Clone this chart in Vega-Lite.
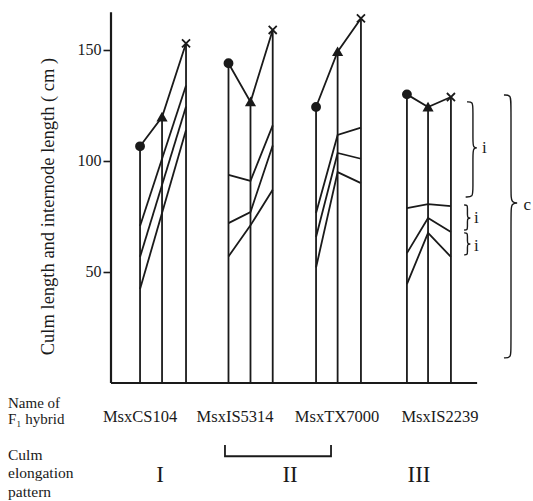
{
  "$schema": "https://vega.github.io/schema/vega-lite/v6.json",
  "width": 422,
  "height": 383,
  "autosize": {"type": "none"},
  "padding": {"left": 111, "top": 0, "right": 0, "bottom": 118},
  "background": "white",
  "config": {
    "view": {"stroke": null},
    "font": "Liberation Serif",
    "text": {"font": "Liberation Serif", "color": "#1a1a1a"}
  },
  "datasets": {
    "tops": [
      {"hybrid": "MsxCS104", "stage": 1, "pos": 1.32, "culm": 106.6},
      {"hybrid": "MsxCS104", "stage": 2, "pos": 2.32, "culm": 119.8},
      {"hybrid": "MsxCS104", "stage": 3, "pos": 3.41, "culm": 153},
      {"hybrid": "MsxIS5314", "stage": 1, "pos": 5.34, "culm": 144},
      {"hybrid": "MsxIS5314", "stage": 2, "pos": 6.34, "culm": 126.6},
      {"hybrid": "MsxIS5314", "stage": 3, "pos": 7.35, "culm": 159},
      {"hybrid": "MsxTX7000", "stage": 1, "pos": 9.32, "culm": 124.3},
      {"hybrid": "MsxTX7000", "stage": 2, "pos": 10.3, "culm": 149.2},
      {"hybrid": "MsxTX7000", "stage": 3, "pos": 11.36, "culm": 164.2},
      {"hybrid": "MsxIS2239", "stage": 1, "pos": 13.45, "culm": 130},
      {"hybrid": "MsxIS2239", "stage": 2, "pos": 14.41, "culm": 124.3},
      {"hybrid": "MsxIS2239", "stage": 3, "pos": 15.45, "culm": 128.8}
    ],
    "frame": [
      {"axis": "y", "x0": 0, "x1": 0, "y0": 0, "y1": 167},
      {"axis": "x", "x0": 0, "x1": 16.64, "y0": 0, "y1": 0}
    ],
    "internodes": [
      {"id": "CS104-1", "stage": 1, "pos": 1.32, "len": 70.7},
      {"id": "CS104-1", "stage": 3, "pos": 3.41, "len": 134},
      {"id": "CS104-2", "stage": 1, "pos": 1.32, "len": 56.8},
      {"id": "CS104-2", "stage": 3, "pos": 3.41, "len": 124.5},
      {"id": "CS104-3", "stage": 1, "pos": 1.32, "len": 42.3},
      {"id": "CS104-3", "stage": 3, "pos": 3.41, "len": 114},
      {"id": "IS5314-1", "stage": 1, "pos": 5.34, "len": 93.7},
      {"id": "IS5314-1", "stage": 2, "pos": 6.34, "len": 91},
      {"id": "IS5314-1", "stage": 3, "pos": 7.35, "len": 116},
      {"id": "IS5314-2", "stage": 1, "pos": 5.34, "len": 72},
      {"id": "IS5314-2", "stage": 2, "pos": 6.34, "len": 77},
      {"id": "IS5314-2", "stage": 3, "pos": 7.35, "len": 107},
      {"id": "IS5314-3", "stage": 1, "pos": 5.34, "len": 57},
      {"id": "IS5314-3", "stage": 2, "pos": 6.34, "len": 71},
      {"id": "IS5314-3", "stage": 3, "pos": 7.35, "len": 87},
      {"id": "TX7000-1", "stage": 1, "pos": 9.32, "len": 76.6},
      {"id": "TX7000-1", "stage": 2, "pos": 10.3, "len": 111.7},
      {"id": "TX7000-1", "stage": 3, "pos": 11.36, "len": 115},
      {"id": "TX7000-2", "stage": 1, "pos": 9.32, "len": 65.8},
      {"id": "TX7000-2", "stage": 2, "pos": 10.3, "len": 103.6},
      {"id": "TX7000-2", "stage": 3, "pos": 11.36, "len": 101},
      {"id": "TX7000-3", "stage": 1, "pos": 9.32, "len": 52},
      {"id": "TX7000-3", "stage": 2, "pos": 10.3, "len": 95},
      {"id": "TX7000-3", "stage": 3, "pos": 11.36, "len": 90},
      {"id": "IS2239-1", "stage": 1, "pos": 13.45, "len": 78.8},
      {"id": "IS2239-1", "stage": 2, "pos": 14.41, "len": 80.6},
      {"id": "IS2239-1", "stage": 3, "pos": 15.45, "len": 79.7},
      {"id": "IS2239-2", "stage": 1, "pos": 13.45, "len": 58.5},
      {"id": "IS2239-2", "stage": 2, "pos": 14.41, "len": 74.3},
      {"id": "IS2239-2", "stage": 3, "pos": 15.45, "len": 68},
      {"id": "IS2239-3", "stage": 1, "pos": 13.45, "len": 44.5},
      {"id": "IS2239-3", "stage": 2, "pos": 14.41, "len": 67.6},
      {"id": "IS2239-3", "stage": 3, "pos": 15.45, "len": 56.8}
    ],
    "braces": [
      {"b": "i1", "o": 1, "pos": 16.18, "y": 126.6},
      {"b": "i1", "o": 2, "pos": 16.45, "y": 126.6},
      {"b": "i1", "o": 3, "pos": 16.45, "y": 123.6},
      {"b": "i1", "o": 4, "pos": 16.45, "y": 108.9},
      {"b": "i1", "o": 5, "pos": 16.45, "y": 105.9},
      {"b": "i1", "o": 6, "pos": 16.72, "y": 105.9},
      {"b": "i1", "o": 7, "pos": 16.45, "y": 105.9},
      {"b": "i1", "o": 8, "pos": 16.45, "y": 102.9},
      {"b": "i1", "o": 9, "pos": 16.45, "y": 86.8},
      {"b": "i1", "o": 10, "pos": 16.45, "y": 83.8},
      {"b": "i1", "o": 11, "pos": 16.12, "y": 83.8},
      {"b": "i2", "o": 1, "pos": 16.05, "y": 80.2},
      {"b": "i2", "o": 2, "pos": 16.2, "y": 80.2},
      {"b": "i2", "o": 3, "pos": 16.2, "y": 78.7},
      {"b": "i2", "o": 4, "pos": 16.2, "y": 75.8},
      {"b": "i2", "o": 5, "pos": 16.2, "y": 74.3},
      {"b": "i2", "o": 6, "pos": 16.4, "y": 74.3},
      {"b": "i2", "o": 7, "pos": 16.2, "y": 74.3},
      {"b": "i2", "o": 8, "pos": 16.2, "y": 72.8},
      {"b": "i2", "o": 9, "pos": 16.2, "y": 70.4},
      {"b": "i2", "o": 10, "pos": 16.2, "y": 68.9},
      {"b": "i2", "o": 11, "pos": 16.05, "y": 68.9},
      {"b": "i3", "o": 1, "pos": 16.05, "y": 67.6},
      {"b": "i3", "o": 2, "pos": 16.2, "y": 67.6},
      {"b": "i3", "o": 3, "pos": 16.2, "y": 66.1},
      {"b": "i3", "o": 4, "pos": 16.2, "y": 64.1},
      {"b": "i3", "o": 5, "pos": 16.2, "y": 62.6},
      {"b": "i3", "o": 6, "pos": 16.4, "y": 62.6},
      {"b": "i3", "o": 7, "pos": 16.2, "y": 62.6},
      {"b": "i3", "o": 8, "pos": 16.2, "y": 61.1},
      {"b": "i3", "o": 9, "pos": 16.2, "y": 59.2},
      {"b": "i3", "o": 10, "pos": 16.2, "y": 57.7},
      {"b": "i3", "o": 11, "pos": 16.05, "y": 57.7},
      {"b": "c", "o": 1, "pos": 17.86, "y": 129.7},
      {"b": "c", "o": 2, "pos": 18.18, "y": 129.7},
      {"b": "c", "o": 3, "pos": 18.18, "y": 125.7},
      {"b": "c", "o": 4, "pos": 18.18, "y": 85.1},
      {"b": "c", "o": 5, "pos": 18.18, "y": 81.1},
      {"b": "c", "o": 6, "pos": 18.6, "y": 81.1},
      {"b": "c", "o": 7, "pos": 18.18, "y": 81.1},
      {"b": "c", "o": 8, "pos": 18.18, "y": 77.1},
      {"b": "c", "o": 9, "pos": 18.18, "y": 15.3},
      {"b": "c", "o": 10, "pos": 18.18, "y": 11.3},
      {"b": "c", "o": 11, "pos": 17.86, "y": 11.3}
    ],
    "bracket": [
      {"o": 1, "pos": 5.18, "y": -27.9},
      {"o": 2, "pos": 5.18, "y": -33.0},
      {"o": 3, "pos": 10.0, "y": -33.0},
      {"o": 4, "pos": 10.0, "y": -27.9}
    ],
    "names": [
      {"text": "MsxCS104", "pos": 1.32, "y": -15.3},
      {"text": "MsxIS5314", "pos": 5.64, "y": -15.3},
      {"text": "MsxTX7000", "pos": 10.27, "y": -15.3},
      {"text": "MsxIS2239", "pos": 14.95, "y": -15.3}
    ],
    "namelabel": [
      {"text": ["Name of", "F₁ hybrid"], "pos": -4.68, "y": -9.0}
    ],
    "patternlabel": [
      {"text": ["Culm", "elongation", "pattern"], "pos": -4.68, "y": -32.4}
    ],
    "patterns": [
      {"text": "I", "pos": 2.23, "y": -41.4},
      {"text": "II", "pos": 8.14, "y": -41.4},
      {"text": "III", "pos": 14.0, "y": -41.4}
    ],
    "bracelabels": [
      {"text": "i", "pos": 16.86, "y": 105.9},
      {"text": "i", "pos": 16.5, "y": 74.3},
      {"text": "i", "pos": 16.5, "y": 61.7},
      {"text": "c", "pos": 18.75, "y": 80.2}
    ]
  },
  "layer": [
    {
      "data": {"name": "tops"},
      "mark": {"type": "line", "color": "#1a1a1a", "strokeWidth": 1.8},
      "encoding": {
        "x": {"field": "pos", "type": "quantitative", "scale": {"domain": [0, 19.18], "nice": false, "zero": false}, "axis": null},
        "y": {
          "field": "culm", "type": "quantitative",
          "scale": {"domain": [0, 172.5], "nice": false, "zero": false},
          "axis": {
            "values": [50, 100, 150],
            "domain": false, "grid": false,
            "ticks": true, "tickSize": 8, "tickWidth": 1.6, "tickColor": "#1a1a1a",
            "labelFont": "Liberation Serif", "labelFontSize": 16, "labelColor": "#1a1a1a", "labelPadding": 2,
            "title": "Culm length and internode length ( cm )",
            "titleFont": "Liberation Serif", "titleFontSize": 18.5, "titleFontWeight": "normal", "titleColor": "#1a1a1a",
            "titleAngle": 270, "titleAlign": "center", "titleBaseline": "middle",
            "titleX": -64, "titleY": 206
          }
        },
        "detail": {"field": "hybrid", "type": "nominal"},
        "order": {"field": "stage", "type": "quantitative"}
      }
    },
    {
      "data": {"name": "tops"},
      "mark": {"type": "rule", "color": "#1a1a1a", "strokeWidth": 1.8},
      "encoding": {
        "x": {"field": "pos", "type": "quantitative"},
        "y": {"field": "culm", "type": "quantitative"},
        "y2": {"datum": 0}
      }
    },
    {
      "data": {"name": "frame"},
      "mark": {"type": "rule", "color": "#1a1a1a", "strokeWidth": 2.2},
      "encoding": {
        "x": {"field": "x0", "type": "quantitative"},
        "x2": {"field": "x1"},
        "y": {"field": "y0", "type": "quantitative"},
        "y2": {"field": "y1"}
      }
    },
    {
      "data": {"name": "internodes"},
      "mark": {"type": "line", "color": "#1a1a1a", "strokeWidth": 1.8},
      "encoding": {
        "x": {"field": "pos", "type": "quantitative"},
        "y": {"field": "len", "type": "quantitative"},
        "detail": {"field": "id", "type": "nominal"},
        "order": {"field": "stage", "type": "quantitative"}
      }
    },
    {
      "data": {"name": "tops"},
      "mark": {"type": "point", "filled": true, "fill": "#1a1a1a", "stroke": "#1a1a1a", "strokeWidth": 1.8, "opacity": 1, "size": 65},
      "encoding": {
        "x": {"field": "pos", "type": "quantitative"},
        "y": {"field": "culm", "type": "quantitative"},
        "shape": {"field": "stage", "type": "nominal", "legend": null,
          "scale": {"domain": [1, 2, 3], "range": ["circle", "triangle-up", "M-1,-1L1,1M-1,1L1,-1"]}}
      }
    },
    {
      "data": {"name": "braces"},
      "mark": {"type": "line", "color": "#1a1a1a", "strokeWidth": 1.4, "interpolate": "basis"},
      "encoding": {
        "x": {"field": "pos", "type": "quantitative"},
        "y": {"field": "y", "type": "quantitative"},
        "detail": {"field": "b", "type": "nominal"},
        "order": {"field": "o", "type": "quantitative"}
      }
    },
    {
      "data": {"name": "bracket"},
      "mark": {"type": "line", "color": "#1a1a1a", "strokeWidth": 1.8},
      "encoding": {
        "x": {"field": "pos", "type": "quantitative"},
        "y": {"field": "y", "type": "quantitative"},
        "order": {"field": "o", "type": "quantitative"}
      }
    },
    {
      "data": {"name": "names"},
      "mark": {"type": "text", "fontSize": 16.5, "align": "center", "baseline": "middle"},
      "encoding": {
        "x": {"field": "pos", "type": "quantitative"},
        "y": {"field": "y", "type": "quantitative"},
        "text": {"field": "text", "type": "nominal"}
      }
    },
    {
      "data": {"name": "namelabel"},
      "mark": {"type": "text", "fontSize": 15, "align": "left", "baseline": "middle", "lineHeight": 16},
      "encoding": {
        "x": {"field": "pos", "type": "quantitative"},
        "y": {"field": "y", "type": "quantitative"},
        "text": {"field": "text", "type": "nominal"}
      }
    },
    {
      "data": {"name": "patternlabel"},
      "mark": {"type": "text", "fontSize": 15.5, "align": "left", "baseline": "middle", "lineHeight": 18.5},
      "encoding": {
        "x": {"field": "pos", "type": "quantitative"},
        "y": {"field": "y", "type": "quantitative"},
        "text": {"field": "text", "type": "nominal"}
      }
    },
    {
      "data": {"name": "patterns"},
      "mark": {"type": "text", "fontSize": 23, "align": "center", "baseline": "middle"},
      "encoding": {
        "x": {"field": "pos", "type": "quantitative"},
        "y": {"field": "y", "type": "quantitative"},
        "text": {"field": "text", "type": "nominal"}
      }
    },
    {
      "data": {"name": "bracelabels"},
      "mark": {"type": "text", "fontSize": 17, "align": "left", "baseline": "middle"},
      "encoding": {
        "x": {"field": "pos", "type": "quantitative"},
        "y": {"field": "y", "type": "quantitative"},
        "text": {"field": "text", "type": "nominal"}
      }
    }
  ]
}
